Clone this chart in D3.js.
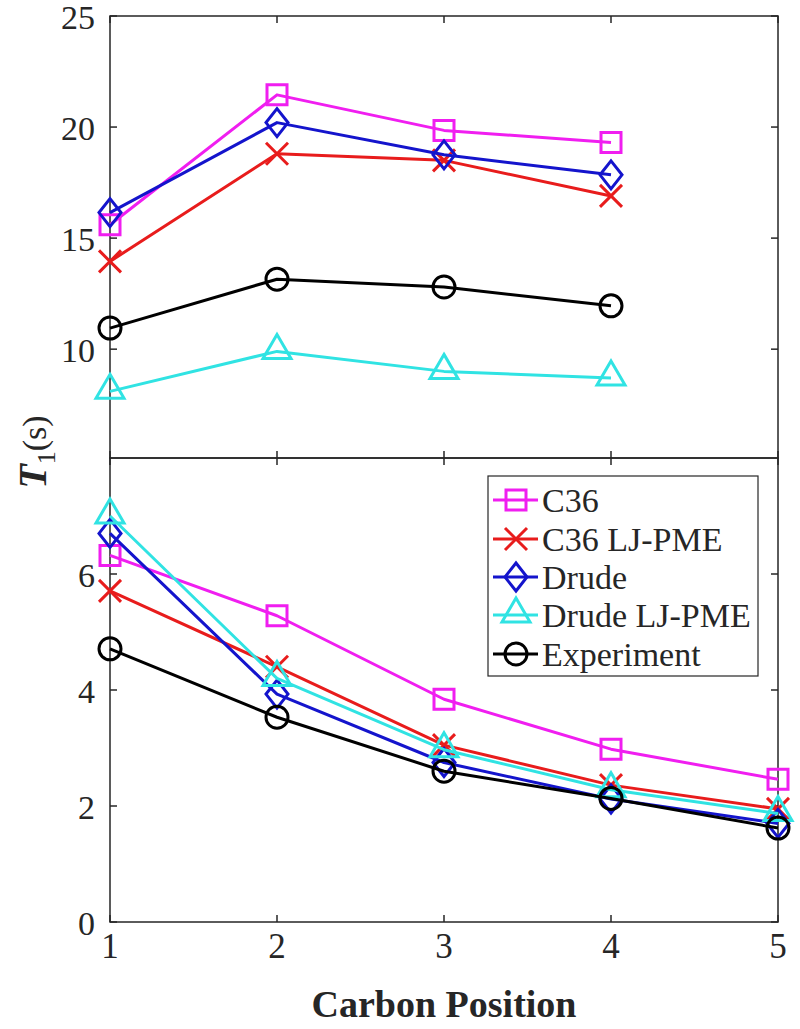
<!DOCTYPE html>
<html>
<head>
<meta charset="utf-8">
<script src="https://cdn.jsdelivr.net/npm/d3@7"></script>
<style>
  html, body { margin: 0; padding: 0; background: #fff; }
  svg { display: block; }
  text { font-family: "Liberation Serif", "Times New Roman", serif; fill: #262626; }
</style>
</head>
<body>
<svg id="chart" width="800" height="1029"></svg>
<script>
// ---------- data ----------
const seriesNames = ["C36", "C36 LJ-PME", "Drude", "Drude LJ-PME", "Experiment"];
const topPositions = [1, 2, 3, 4];
const bottomPositions = [1, 2, 3, 4, 5];

const topC36      = [15.6, 21.45, 19.85, 19.3];
const topC36LJ    = [13.95, 18.8, 18.5, 16.9];
const topDrude    = [16.15, 20.2, 18.75, 17.85];
const topDrudeLJ  = [8.1, 9.9, 9.0, 8.7];
const topExp      = [10.95, 13.15, 12.8, 11.95];

const botC36      = [6.32, 5.28, 3.84, 2.98, 2.46];
const botC36LJ    = [5.71, 4.4, 3.05, 2.36, 1.95];
const botDrude    = [6.7, 3.93, 2.75, 2.12, 1.7];
const botDrudeLJ  = [7.0, 4.2, 2.97, 2.28, 1.87];
const botExp      = [4.71, 3.53, 2.6, 2.13, 1.62];

const xTicks = [1, 2, 3, 4, 5];
const topYTicks = [10, 15, 20, 25];
const bottomYTicks = [0, 2, 4, 6];

// ---------- styling ----------
const colors = ["#f01ef0", "#e81c1c", "#1414cc", "#30e3e3", "#000000"];
const markers = ["square", "x", "diamond", "triangle", "circle"];
const axisColor = "#262626";

const svg = d3.select("#chart");

const x = d3.scaleLinear().domain([1, 5]).range([110, 778]);
const yTop = d3.scaleLinear().domain([5.1, 25]).range([458, 16]);
const yBot = d3.scaleLinear().domain([0, 8]).range([922, 458]);

function markerPath(type, cx, cy) {
  const p = d3.path();
  if (type === "square") {
    p.rect(cx - 10, cy - 10, 20, 20);
  } else if (type === "x") {
    p.moveTo(cx - 11, cy - 11); p.lineTo(cx + 11, cy + 11);
    p.moveTo(cx + 11, cy - 11); p.lineTo(cx - 11, cy + 11);
  } else if (type === "diamond") {
    p.moveTo(cx, cy - 14); p.lineTo(cx + 11, cy); p.lineTo(cx, cy + 14); p.lineTo(cx - 11, cy); p.closePath();
  } else if (type === "triangle") {
    p.moveTo(cx, cy - 17); p.lineTo(cx + 14, cy + 7); p.lineTo(cx - 14, cy + 7); p.closePath();
  } else if (type === "circle") {
    p.moveTo(cx + 11, cy); p.arc(cx, cy, 11, 0, 2 * Math.PI);
  }
  return p.toString();
}

function drawPanel(yScale, positions, seriesList, yTicks, top, bottom, showXLabels) {
  const g = svg.append("g");
  g.append("rect")
    .attr("x", x(1)).attr("y", top)
    .attr("width", x(5) - x(1)).attr("height", bottom - top)
    .attr("fill", "none").attr("stroke", axisColor).attr("stroke-width", 1.5);

  yTicks.forEach(t => {
    const yy = yScale(t);
    g.append("line").attr("x1", x(1)).attr("x2", x(1) + 7).attr("y1", yy).attr("y2", yy)
      .attr("stroke", axisColor).attr("stroke-width", 1.5);
    g.append("line").attr("x1", x(5)).attr("x2", x(5) - 7).attr("y1", yy).attr("y2", yy)
      .attr("stroke", axisColor).attr("stroke-width", 1.5);
    g.append("text").attr("x", 95).attr("y", yy + 1).attr("dy", "0.35em")
      .attr("text-anchor", "end").attr("font-size", 34).text(t);
  });
  xTicks.forEach(t => {
    const xx = x(t);
    g.append("line").attr("x1", xx).attr("x2", xx).attr("y1", bottom).attr("y2", bottom - 7)
      .attr("stroke", axisColor).attr("stroke-width", 1.5);
    g.append("line").attr("x1", xx).attr("x2", xx).attr("y1", top).attr("y2", top + 7)
      .attr("stroke", axisColor).attr("stroke-width", 1.5);
    if (showXLabels) {
      g.append("text").attr("x", xx).attr("y", 958)
        .attr("text-anchor", "middle").attr("font-size", 35).text(t);
    }
  });

  const line = d3.line().x(d => x(d[0])).y(d => yScale(d[1]));
  seriesList.forEach((vals, i) => {
    const pts = positions.map((p, k) => [p, vals[k]]);
    g.append("path").attr("d", line(pts)).attr("fill", "none")
      .attr("stroke", colors[i]).attr("stroke-width", 3).attr("stroke-linejoin", "round");
    g.selectAll(null).data(pts).enter().append("path")
      .attr("d", d => markerPath(markers[i], x(d[0]), yScale(d[1])))
      .attr("fill", "none").attr("stroke", colors[i]).attr("stroke-width", 3);
  });
}

drawPanel(yTop, topPositions, [topC36, topC36LJ, topDrude, topDrudeLJ, topExp], topYTicks, 16, 458, false);
drawPanel(yBot, bottomPositions, [botC36, botC36LJ, botDrude, botDrudeLJ, botExp], bottomYTicks, 458, 922, true);

// legend
const lg = svg.append("g");
lg.append("rect").attr("x", 488).attr("y", 476).attr("width", 270).attr("height", 200)
  .attr("fill", "#fff").attr("stroke", axisColor).attr("stroke-width", 1.2);
const legendY = [500, 539, 577, 615, 654];
seriesNames.forEach((name, i) => {
  const yy = legendY[i];
  lg.append("line").attr("x1", 493).attr("x2", 538).attr("y1", yy).attr("y2", yy)
    .attr("stroke", colors[i]).attr("stroke-width", 3);
  lg.append("path").attr("d", markerPath(markers[i], 516, yy))
    .attr("fill", "none").attr("stroke", colors[i]).attr("stroke-width", 3);
  lg.append("text").attr("x", 542).attr("y", yy).attr("dy", "0.35em")
    .attr("font-size", 34).attr("fill", "#111").text(name);
});

// axis labels
svg.append("text").attr("x", 444).attr("y", 1017).attr("text-anchor", "middle")
  .attr("font-size", 38).attr("font-weight", "bold").text("Carbon Position");

const yl = svg.append("text")
  .attr("transform", "translate(46,452) rotate(-90)")
  .attr("text-anchor", "middle");
yl.append("tspan").attr("font-size", 40).attr("font-weight", "bold").attr("font-style", "italic").text("T");
yl.append("tspan").attr("font-size", 26).attr("dy", 9).text("1");
yl.append("tspan").attr("font-size", 34).attr("dy", -9).text("(s)");
</script>
</body>
</html>
